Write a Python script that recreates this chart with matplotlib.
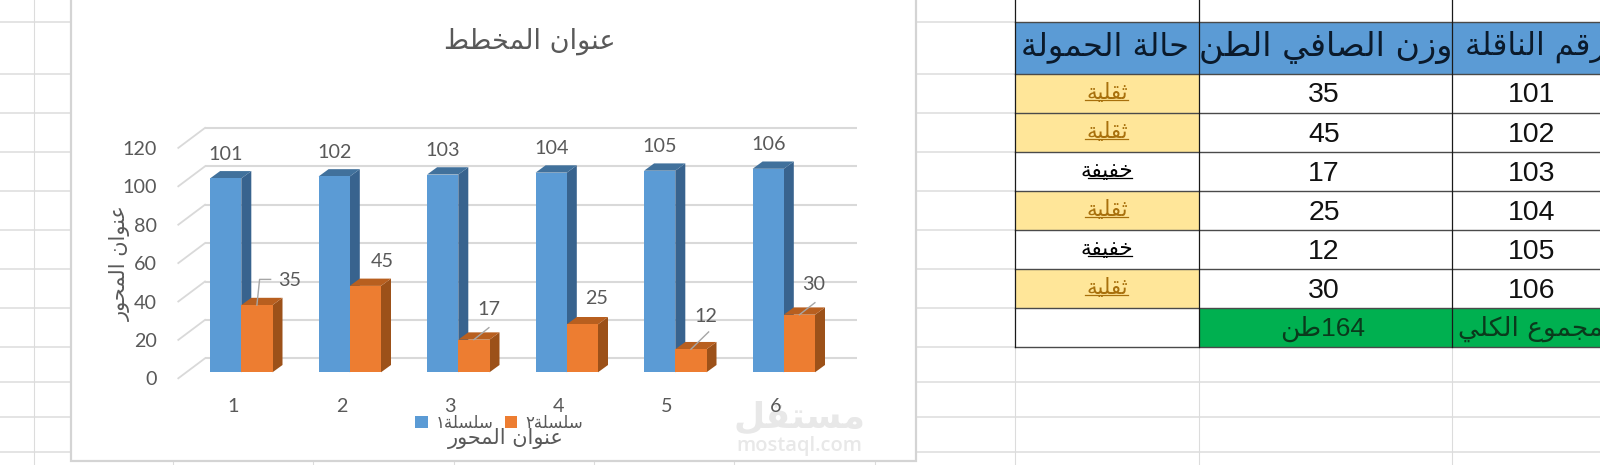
import matplotlib
matplotlib.use("Agg")
import matplotlib.pyplot as plt
from matplotlib.patches import Rectangle, Polygon
from matplotlib.transforms import ScaledTranslation, Affine2D

# ---------------- data ----------------
categories = [1, 2, 3, 4, 5, 6]
vehicle_numbers = [101, 102, 103, 104, 105, 106]
net_weights = [35, 45, 17, 25, 12, 30]
y_ticks = [0, 20, 40, 60, 80, 100, 120]
load_status = ["ثقلية", "ثقلية", "خفيفة", "ثقلية", "خفيفة", "ثقلية"]
table_headers = ["حالة الحمولة", "وزن الصافي الطن", "رقم الناقلة"]
total_label = "المجموع الكلي"
total_value = "164طن"
chart_title = "عنوان المخطط"
axis_title = "عنوان المحور"
series_names = ["سلسلة١", "سلسلة٢"]
watermark_ar = "مستقل"
watermark_en = "mostaql.com"

# ---------------- Arabic shaping (matplotlib has no shaping/bidi) ----------------
def _f(iso, fin, ini=None, med=None):
    return (chr(iso), chr(fin), chr(ini) if ini else None, chr(med) if med else None)

FORMS = {
    "ا": _f(0xFE8D, 0xFE8E), "ت": _f(0xFE95, 0xFE96, 0xFE97, 0xFE98),
    "ث": _f(0xFE99, 0xFE9A, 0xFE9B, 0xFE9C),
    "ج": _f(0xFE9D, 0xFE9E, 0xFE9F, 0xFEA0), "ح": _f(0xFEA1, 0xFEA2, 0xFEA3, 0xFEA4),
    "خ": _f(0xFEA5, 0xFEA6, 0xFEA7, 0xFEA8), "د": _f(0xFEA9, 0xFEAA),
    "ر": _f(0xFEAD, 0xFEAE), "ز": _f(0xFEAF, 0xFEB0),
    "س": _f(0xFEB1, 0xFEB2, 0xFEB3, 0xFEB4), "ص": _f(0xFEB9, 0xFEBA, 0xFEBB, 0xFEBC),
    "ط": _f(0xFEC1, 0xFEC2, 0xFEC3, 0xFEC4), "ع": _f(0xFEC9, 0xFECA, 0xFECB, 0xFECC),
    "ف": _f(0xFED1, 0xFED2, 0xFED3, 0xFED4), "ق": _f(0xFED5, 0xFED6, 0xFED7, 0xFED8),
    "ك": _f(0xFED9, 0xFEDA, 0xFEDB, 0xFEDC), "ل": _f(0xFEDD, 0xFEDE, 0xFEDF, 0xFEE0),
    "م": _f(0xFEE1, 0xFEE2, 0xFEE3, 0xFEE4), "ن": _f(0xFEE5, 0xFEE6, 0xFEE7, 0xFEE8),
    "ة": _f(0xFE93, 0xFE94), "و": _f(0xFEED, 0xFEEE),
    "ي": _f(0xFEF1, 0xFEF2, 0xFEF3, 0xFEF4),
}

def ar(text):
    out = []
    for i, c in enumerate(text):
        if c not in FORMS:
            out.append(c)
            continue
        prev = text[i - 1] if i else ""
        nxt = text[i + 1] if i + 1 < len(text) else ""
        joins_prev = prev in FORMS and FORMS[prev][2] is not None
        joins_next = nxt in FORMS and FORMS[c][2] is not None
        iso, fin, ini, med = FORMS[c]
        out.append(med if joins_prev and joins_next else fin if joins_prev
                   else ini if joins_next else iso)
    vis = "".join(out)[::-1]
    # keep runs of Latin digits in reading order
    res, run = [], []
    for c in vis:
        if c.isascii() and c.isdigit():
            run.append(c)
        else:
            res.extend(run[::-1]); run = []
            res.append(c)
    res.extend(run[::-1])
    return "".join(res)

# ---------------- figure and layout ----------------
W, H = 1600, 465
fig = plt.figure(figsize=(W / 100, H / 100), dpi=100, facecolor="white")
bg = fig.add_axes([0, 0, 1, 1], zorder=0)
bg.set_xlim(0, W); bg.set_ylim(H, 0); bg.axis("off")

GRID = "#DCDCDC"
row_y = [22, 74, 113, 152, 191, 230, 269, 308, 347, 382, 417, 452]
col_x = [33.5, 173, 313, 454, 594, 734, 875, 1015.3, 1198.5, 1451.7]
for y in row_y:
    bg.plot([0, W], [y, y], color=GRID, lw=1.1, zorder=1)
for x in col_x:
    bg.plot([x, x], [0, H], color=GRID, lw=0.8, zorder=1)

# chart frame
bg.add_patch(Rectangle((71, -5), 915.5 - 71, 461 + 5, fc="white", ec="#D4D4D4", lw=1.6, zorder=2))

# table
tx = [1015.3, 1198.5, 1451.7, 1610]
ty = row_y[:9]
ROWLINE = "#4A4A4A"
HEAD = "#5B9BD5"; YEL = "#FFE699"; BROWN = "#A8700C"; GREEN = "#00B050"
bg.add_patch(Rectangle((tx[0], 0), tx[3] - tx[0], ty[8], fc="white", ec="none", zorder=3))
bg.add_patch(Rectangle((tx[0], ty[0]), tx[3] - tx[0], ty[1] - ty[0], fc=HEAD, ec="none", zorder=3))
for i, s in enumerate(load_status):
    if s == load_status[0]:
        bg.add_patch(Rectangle((tx[0], ty[i + 1]), tx[1] - tx[0], ty[i + 2] - ty[i + 1], fc=YEL, ec="none", zorder=3))
bg.add_patch(Rectangle((tx[1], ty[7]), tx[3] - tx[1], ty[8] - ty[7], fc=GREEN, ec="none", zorder=3))
for y in ty:
    bg.plot([tx[0], W], [y, y], color=ROWLINE, lw=1.0, zorder=4)
for x in tx[:3]:
    bg.plot([x, x], [0, ty[8]], color="#1A1A1A", lw=0.9, zorder=4)

AR_FONT = "DejaVu Sans"
TBL = "Liberation Sans"
HEAD_INK = "#0B1A2B"
bg.text(1105, 47, ar(table_headers[0]), family=AR_FONT, fontsize=23, ha="center", va="center",
        color=HEAD_INK, zorder=5)
bg.text(1325.5, 47, ar(table_headers[1]), family=AR_FONT, fontsize=24, ha="center", va="center",
        color=HEAD_INK, zorder=5)
bg.text(1465, 47, ar(table_headers[2]), family=AR_FONT, fontsize=22.5, ha="left", va="center",
        color=HEAD_INK, zorder=5)
for i, (st, n, w) in enumerate(zip(load_status, vehicle_numbers, net_weights)):
    yc = (ty[i + 1] + ty[i + 2]) / 2
    heavy = st == load_status[0]
    bg.text(1107, yc - 0.5, ar(st), family=AR_FONT, fontsize=15.5, ha="center", va="center",
            color=BROWN if heavy else "black", zorder=5)
    bg.plot([1085, 1128] if heavy else [1088, 1132], [yc + 6.5, yc + 6.5], color=BROWN if heavy else "black",
            lw=0.9, zorder=5)
    bg.text(1324, yc + 2, str(w), family=TBL, fontsize=20.5, ha="center", va="center", color="#111111", zorder=5)
    bg.text(1532, yc + 2, str(n), family=TBL, fontsize=20.5, ha="center", va="center", color="#111111", zorder=5)
bg.text(1323, 328.5, ar(total_value), family=[TBL, AR_FONT], fontsize=19, ha="center", va="center",
        color="#0A3A1C", zorder=5)
bg.text(1458, 328.5, ar(total_label), family=AR_FONT, fontsize=19, ha="left", va="center",
        color="#0A3A1C", zorder=5)

# ---------------- chart axes: value scale mapped on the 3-D front plane ----------------
PX_L, PX_R, PX_Y0 = 178.3, 857.3, 372.3
PX_PER_UNIT, PX_PER_CAT = 1.92, 108.5
PX_TOP = PX_Y0 - 120 * PX_PER_UNIT
CENTER1 = 241.3
ax = fig.add_axes([PX_L / W, 1 - PX_Y0 / H, (PX_R - PX_L) / W, (PX_Y0 - PX_TOP) / H], zorder=1)
ax.patch.set_visible(False)
ax.set_xlim(1 + (PX_L - CENTER1) / PX_PER_CAT, 1 + (PX_R - CENTER1) / PX_PER_CAT)
ax.set_ylim(0, 120)
for s in ax.spines.values():
    s.set_visible(False)

TXT = "#595959"
NUM = "Lato"
BAR_W = 31.2 / PX_PER_CAT
DX, DY = 10 / PX_PER_CAT, 7.3 / PX_PER_UNIT
BACK_DY = 14 / PX_PER_UNIT
BACK_X = 1 + (205 - CENTER1) / PX_PER_CAT
WALL_X = ax.get_xlim()[0]
WALL_DY = -6 / PX_PER_UNIT
GL = "#D9D9D9"

for t in y_ticks:
    ax.plot([BACK_X, ax.get_xlim()[1]], [t + BACK_DY] * 2, color=GL, lw=1.5, clip_on=False, zorder=1,
            solid_capstyle="butt")
    ax.plot([WALL_X, BACK_X], [t + WALL_DY, t + BACK_DY], color=GL, lw=1.3, clip_on=False, zorder=1)

BLUE, BLUE_S, BLUE_T = "#5B9BD5", "#38638E", "#41719C"
ORG, ORG_S, ORG_T = "#ED7D31", "#9C5119", "#B85F1F"

def bars(xs, vals, face, side, top, z, label):
    b = ax.bar(xs, vals, BAR_W, color=face, zorder=z + 0.1, clip_on=False, label=label)
    for x, v in zip(xs, vals):
        l, r = x - BAR_W / 2, x + BAR_W / 2
        ax.add_patch(Polygon([(r, 0), (r + DX, DY), (r + DX, v + DY), (r, v)], fc=side, ec="none",
                             zorder=z, clip_on=False))
        ax.add_patch(Polygon([(l, v), (l + DX, v + DY), (r + DX, v + DY), (r, v)], fc=top, ec="none",
                             zorder=z, clip_on=False))
    return b

blue_x = [c - BAR_W / 2 for c in categories]
org_x = [c + BAR_W / 2 for c in categories]
b1 = bars(blue_x, vehicle_numbers, BLUE, BLUE_S, BLUE_T, 2, ar(series_names[0]))
b2 = bars(org_x, net_weights, ORG, ORG_S, ORG_T, 3, ar(series_names[1]))

# ticks
ax.set_yticks(y_ticks)
ax.set_xticks(categories)
ax.tick_params(axis="both", length=0, labelcolor=TXT, labelsize=14.2)
ax.tick_params(axis="x", pad=18.5)
ax.tick_params(axis="y", pad=15.5)
for lab in ax.get_yticklabels():
    lab.set_family(NUM)
    lab.set_transform(lab.get_transform() + ScaledTranslation(0, -6 / 100, fig.dpi_scale_trans))
for lab in ax.get_xticklabels():
    lab.set_family(NUM)
    lab.set_transform(lab.get_transform() + ScaledTranslation(-8.5 / 100, 0, fig.dpi_scale_trans))

# data labels
for x, v in zip(blue_x, vehicle_numbers):
    ax.annotate(str(v), (x, v), xytext=(0, 24), textcoords="offset pixels", ha="center", va="center",
                family=NUM, fontsize=14.2, color=TXT, zorder=8, annotation_clip=False)
org_off = [(33, 24.4), (17, 24), (15, 29.7), (14.5, 26), (15, 33), (14.5, 30.7)]
for x, v, o in zip(org_x, net_weights, org_off):
    ax.annotate(str(v), (x, v), xytext=o, textcoords="offset pixels", ha="center", va="center",
                family=NUM, fontsize=14.2, color=TXT, zorder=8, annotation_clip=False)

def leader(x, v, pts):
    ox, oy = ax.transData.transform((x, v))
    ax.plot([p[0] for p in pts], [p[1] for p in pts], color="#A6A6A6", lw=1.0, zorder=7, clip_on=False,
            transform=Affine2D().translate(ox, oy))

leader(org_x[0], net_weights[0], [(0, 0), (2.7, 25.7), (13.7, 25.7)])
leader(org_x[2], net_weights[2], [(0, 0), (15, 12)])
leader(org_x[4], net_weights[4], [(0, 0), (17.7, 17.3)])
leader(org_x[5], net_weights[5], [(0, 0), (15.5, 12)])

# titles
def ax_xy(px, py):
    return (px - PX_L) / (PX_R - PX_L), (PX_Y0 - py) / (PX_Y0 - PX_TOP)

tx_, ty_ = ax_xy(530, 41)
ax.text(tx_, ty_, ar(chart_title), transform=ax.transAxes, family=AR_FONT, fontsize=19.5, color=TXT,
        ha="center", va="center")
ax.set_xlabel(ar(axis_title), family=AR_FONT, fontsize=15, color=TXT, va="center")
ax.xaxis.set_label_coords(*ax_xy(506, 438))
ax.set_ylabel(ar(axis_title), family=AR_FONT, fontsize=15, color=TXT, va="center")
ax.yaxis.set_label_coords(*ax_xy(120, 263))

# legend
leg = ax.legend(handles=[b1, b2], labels=[ar(s) for s in series_names], ncols=2, frameon=False,
                loc="center left", bbox_to_anchor=ax_xy(415, 423), borderaxespad=0, borderpad=0,
                handlelength=0.75, handleheight=0.75, handletextpad=0.5, columnspacing=0.65,
                prop={"family": AR_FONT, "size": 12}, labelcolor=TXT)
leg.set_zorder(9)

# watermark
bg.text(799, 417, ar(watermark_ar), family=AR_FONT, fontweight="bold", fontsize=26, ha="center", va="center",
        color="#E8E8E8", zorder=3)
bg.text(799, 446, watermark_en, family="Open Sans", fontweight="semibold", fontsize=14.5, ha="center",
        va="center", color="#E8E8E8", zorder=3)

fig.savefig("out.png", dpi=100)
